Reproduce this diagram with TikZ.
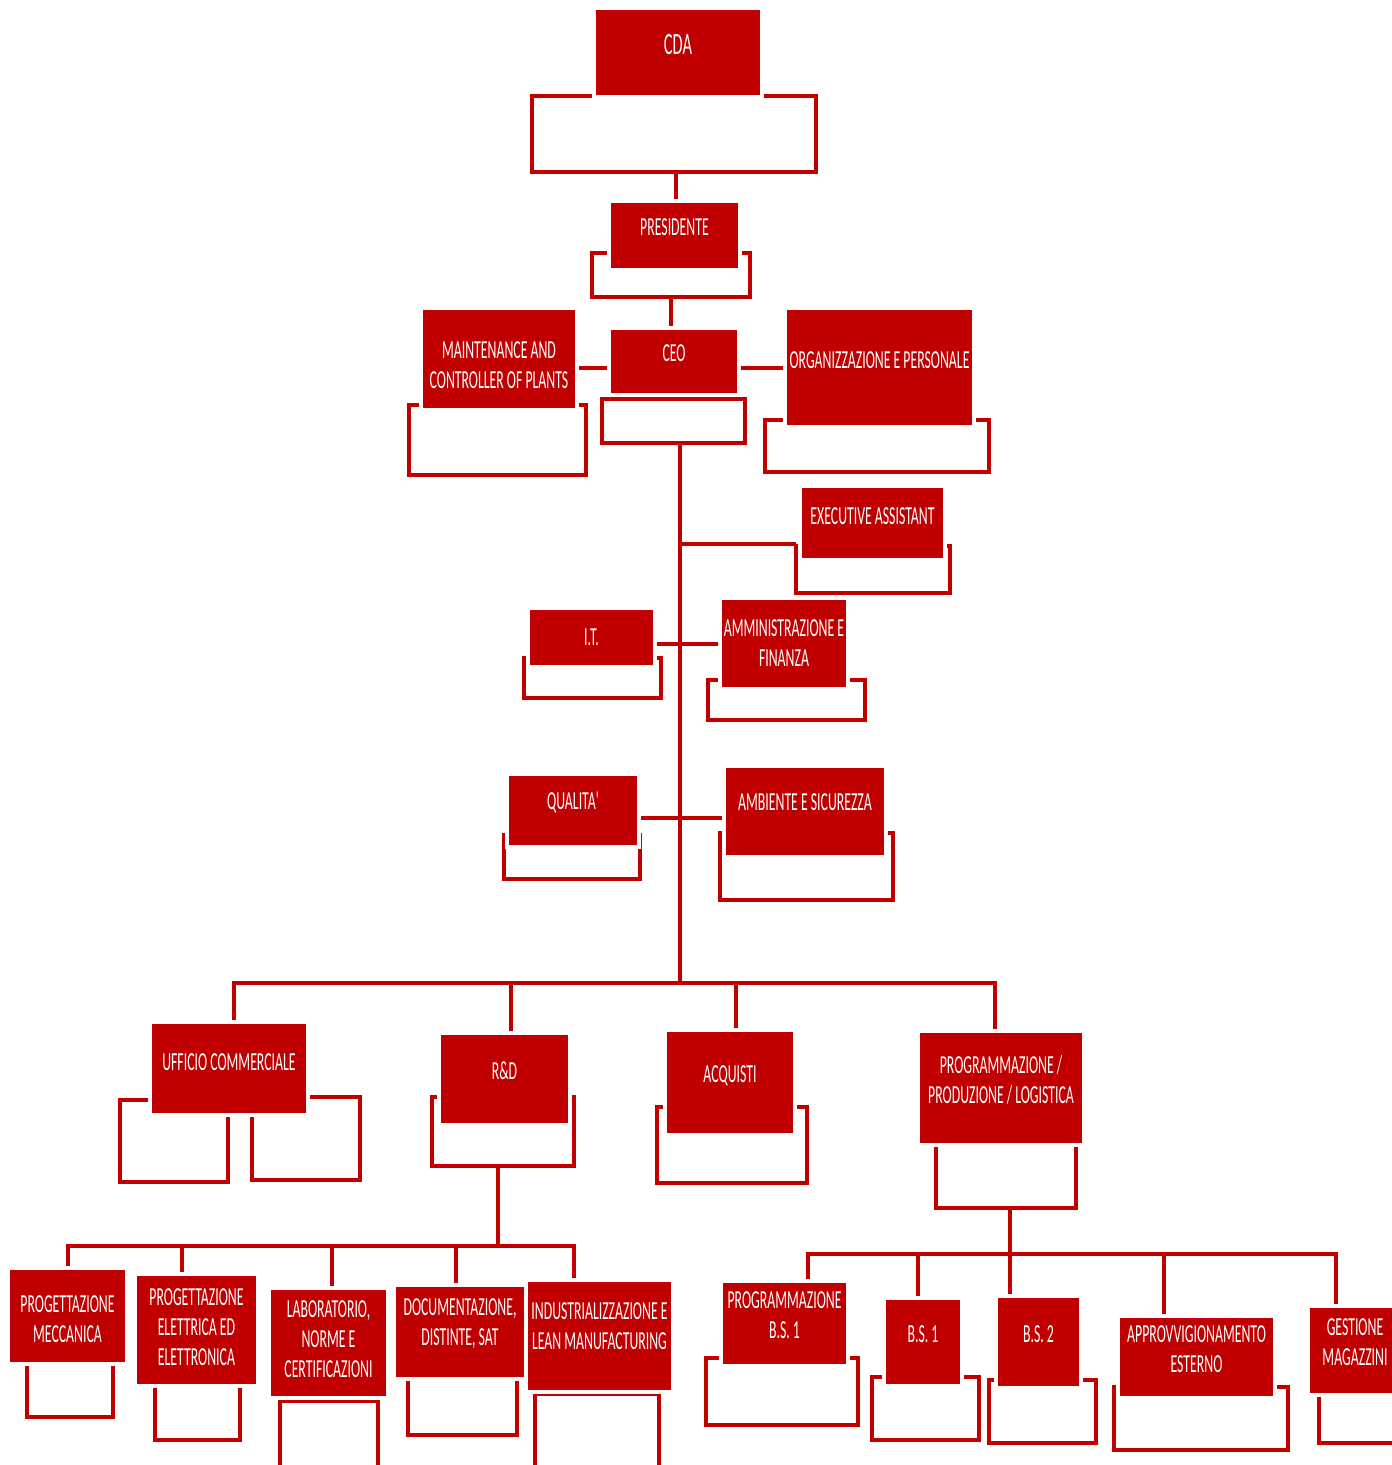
\documentclass[tikz,border=0pt]{standalone}
\usepackage{fontspec}
\newfontfamily\chartfont{Carlito}[FakeStretch=0.53]
\usetikzlibrary{fit,backgrounds}
\definecolor{deepred}{RGB}{192,0,0}

\begin{document}
\begin{tikzpicture}[x=1pt,y=-1pt,
    unit/.style 2 args={fill=deepred,preaction={draw=white,line width=8pt},inner sep=0pt,
      label={[lbl,yshift=#1pt]center:#2}},
    lbl/.style={text=white,align=center,font=\chartfont\fontsize{26}{30}\selectfont},
    tray/.style={draw=deepred,line width=4pt,inner sep=0pt},
    wire/.style={draw=deepred,line width=4pt,line cap=rect}]
  \useasboundingbox (0,0) rectangle (1392,1465);

  % top of the chart
  \node[unit={8}{\fontsize{31}{34}\selectfont CDA},fit={(596,10) (760,95)}] (cda) {};
  \node[unit={8}{PRESIDENTE},fit={(611,203) (738,268)}] (pres) {};
  \node[unit={8}{CEO},fit={(611,330) (737,393)}] (ceo) {};
  \node[unit={-6}{MAINTENANCE AND\\CONTROLLER OF PLANTS},fit={(423,310) (575,408)}] (maint) {};
  \node[unit={7}{ORGANIZZAZIONE E PERSONALE},fit={(787,310) (972,425)}] (org) {};
  \node[unit={7}{EXECUTIVE ASSISTANT},fit={(802,488) (943,558)}] (exec) {};
  \node[unit={0}{I.T.},fit={(530,610) (653,665)}] (it) {};
  \node[unit={0}{AMMINISTRAZIONE E\\FINANZA},fit={(722,600) (846,687)}] (amm) {};
  \node[unit={8}{QUALITA'},fit={(509,776) (637,845)}] (qual) {};
  \node[unit={9}{AMBIENTE E SICUREZZA},fit={(726,768) (884,855)}] (amb) {};

  % departments
  \node[unit={6}{UFFICIO COMMERCIALE},fit={(152,1024) (306,1113)}] (uff) {};
  \node[unit={8}{R\&D},fit={(441,1035) (568,1123)}] (rd) {};
  \node[unit={7}{ACQUISTI},fit={(667,1032) (793,1133)}] (acq) {};
  \node[unit={8}{PROGRAMMAZIONE /\\PRODUZIONE / LOGISTICA},fit={(920,1033) (1082,1143)}] (prog) {};

  % under R&D
  \node[unit={-3}{PROGETTAZIONE\\MECCANICA},fit={(10,1270) (125,1362)}] (pm) {};
  \node[unit={3}{PROGETTAZIONE\\ELETTRICA ED\\ELETTRONICA},fit={(137,1276) (256,1384)}] (pe) {};
  \node[unit={4}{LABORATORIO,\\NORME E\\CERTIFICAZIONI},fit={(271,1290) (386,1396)}] (lab) {};
  \node[unit={8}{DOCUMENTAZIONE,\\DISTINTE, SAT},fit={(396,1287) (524,1377)}] (doc) {};
  \node[unit={10}{INDUSTRIALIZZAZIONE E\\LEAN MANUFACTURING},fit={(528,1282) (671,1390)}] (ind) {};

  % under programmazione
  \node[unit={8}{PROGRAMMAZIONE\\B.S. 1},fit={(723,1283) (846,1364)}] (pbs) {};
  \node[unit={8}{B.S. 1},fit={(886,1300) (960,1384)}] (bsa) {};
  \node[unit={8}{B.S. 2},fit={(998,1298) (1079,1386)}] (bsb) {};
  \node[unit={8}{APPROVVIGIONAMENTO\\ESTERNO},fit={(1120,1318) (1273,1396)}] (app) {};
  \node[unit={8}{GESTIONE\\MAGAZZINI},fit={(1310,1308) (1400,1393)}] (gm) {};

  \coordinate (hub) at (680,983);
  \coordinate (rdbus) at (498,1246);
  \coordinate (pbus) at (1010,1254);

  \begin{scope}[on background layer]
    % trays
    \node[tray,fit={(532,96) (816,172)}] (cda-b) {};
    \node[tray,fit={(592,253) (750,297)}] (pres-b) {};
    \node[tray,fit={(602,399) (745,443)}] (ceo-b) {};
    \node[tray,fit={(409,405) (586,475)}] (maint-b) {};
    \node[tray,fit={(765,420) (989,472)}] (org-b) {};
    \node[tray,fit={(796,546) (950,593)}] (exec-b) {};
    \node[tray,fit={(524,658) (661,698)}] (it-b) {};
    \node[tray,fit={(708,680) (865,720)}] (amm-b) {};
    \node[tray,fit={(504,835) (640,879)}] (qual-b) {};
    \node[tray,fit={(720,833) (893,900)}] (amb-b) {};
    \node[tray,fit={(120,1100) (228,1182)}] (uff-l) {};
    \node[tray,fit={(252,1097) (360,1180)}] (uff-r) {};
    \node[tray,fit={(432,1097) (574,1166)}] (rd-b) {};
    \node[tray,fit={(657,1107) (807,1183)}] (acq-b) {};
    \node[tray,fit={(936,1138) (1076,1208)}] (prog-b) {};
    \node[tray,fit={(27,1358) (113,1417)}] (pm-b) {};
    \node[tray,fit={(155,1380) (240,1440)}] (pe-b) {};
    \node[tray,fit={(280,1401) (378,1480)}] (lab-b) {};
    \node[tray,fit={(408,1373) (517,1435)}] (doc-b) {};
    \node[tray,fit={(535,1394) (659,1480)}] (ind-b) {};
    \node[tray,fit={(706,1358) (858,1425)}] (pbs-b) {};
    \node[tray,fit={(872,1377) (979,1440)}] (bsa-b) {};
    \node[tray,fit={(989,1380) (1096,1443)}] (bsb-b) {};
    \node[tray,fit={(1114,1387) (1288,1450)}] (app-b) {};
    \node[tray,fit={(1319,1390) (1410,1443)}] (gm-b) {};

    % connectors
    \draw[wire] ([xshift=2pt]cda-b.south) -- ([xshift=2pt]cda-b.south |- pres.north);
    \draw[wire] (pres-b.south) -- (pres-b.south |- ceo.north);
    \draw[wire] ([yshift=-6pt]ceo.west) -- ([yshift=-6pt]ceo.west -| maint.east);
    \draw[wire] ([yshift=-6pt]ceo.east) -- ([yshift=-6pt]ceo.east -| org.west);
    \draw[wire] (ceo-b.south -| hub) -- (hub);
    \draw[wire] (hub |- exec-b.north) -- (exec-b.north west);
    \draw[wire] (amm.west) -- (amm.west -| it.east);
    \draw[wire] ([yshift=-7pt]qual.east) -- ([yshift=-7pt]qual.east -| amb.west);

    \draw[wire] (234,0 |- hub) -- (995,0 |- hub);
    \foreach \n/\x in {uff/234,rd/511,acq/736,prog/995}
      \draw[wire] (\x,0 |- hub) -- (\x,0 |- \n.north);

    \draw[wire] (rd-b.south -| rdbus) -- (rdbus);
    \draw[wire] (68,0 |- rdbus) -- (574,0 |- rdbus);
    \foreach \n/\x in {pm/68,pe/182,lab/332,doc/456,ind/574}
      \draw[wire] (\x,0 |- rdbus) -- (\x,0 |- \n.north);

    \draw[wire] (prog-b.south -| pbus) -- (pbus);
    \draw[wire] (808,0 |- pbus) -- (1336,0 |- pbus);
    \foreach \n/\x in {pbs/808,bsa/918,bsb/1010,app/1164,gm/1336}
      \draw[wire] (\x,0 |- pbus) -- (\x,0 |- \n.north);
  \end{scope}
\end{tikzpicture}
\end{document}
